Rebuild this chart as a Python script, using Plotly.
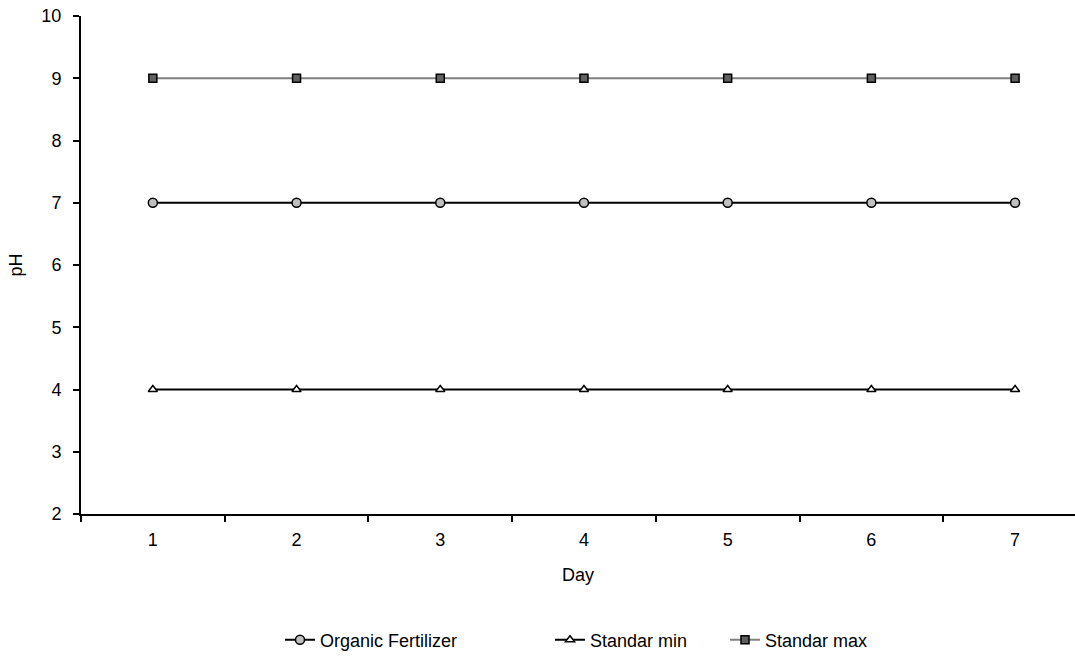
import plotly.graph_objects as go

days = ["1", "2", "3", "4", "5", "6", "7"]
organic = [7, 7, 7, 7, 7, 7, 7]
std_min = [4, 4, 4, 4, 4, 4, 4]
std_max = [9, 9, 9, 9, 9, 9, 9]

font = "Liberation Sans, Arial, sans-serif"
legfont = dict(family=font, size=18, color="black")

fig = go.Figure()
fig.add_trace(go.Scatter(
    x=days, y=organic, name="Organic Fertilizer", mode="lines+markers", legend="legend",
    line=dict(color="black", width=2),
    marker=dict(symbol="circle", size=9, color="#c0c0c0", line=dict(color="black", width=1.5)),
))
fig.add_trace(go.Scatter(
    x=days, y=std_min, name="Standar min", mode="lines+markers", legend="legend2",
    line=dict(color="black", width=2),
    marker=dict(symbol="triangle-up", size=8, color="white", line=dict(color="black", width=1.5)),
))
fig.add_trace(go.Scatter(
    x=days, y=std_max, name="Standar max", mode="lines+markers", legend="legend3",
    line=dict(color="#808080", width=2),
    marker=dict(symbol="square", size=8, color="#606060", line=dict(color="black", width=1.5)),
))

def leg(px):
    return dict(orientation="h", x=(px - 81) / 994, xanchor="left", y=-0.253, yanchor="middle",
                font=legfont, itemwidth=30, bgcolor="rgba(0,0,0,0)")

fig.update_layout(
    width=1075, height=666,
    margin=dict(l=81, r=0, t=16, b=152),
    plot_bgcolor="white", paper_bgcolor="white",
    font=dict(family=font, size=18, color="black"),
    showlegend=True,
    legend=leg(280), legend2=leg(550), legend3=leg(725),
    xaxis=dict(
        type="category", range=[-0.5, 6.417], tickson="boundaries",
        ticks="outside", ticklen=6, tickwidth=1.5, tickcolor="black",
        tickfont=dict(family=font, size=18, color="black"),
        showline=True, linecolor="black", linewidth=2, showgrid=False, zeroline=False,
        title=dict(text="Day", standoff=20, font=dict(family=font, size=18, color="black")),
        ticklabelstandoff=8,
    ),
    yaxis=dict(
        range=[2, 10], dtick=1, ticks="outside", ticklen=6, tickwidth=1.5, tickcolor="black",
        tickfont=dict(family=font, size=18, color="black"),
        showline=True, linecolor="black", linewidth=2, showgrid=False, zeroline=False,
        title=dict(text="pH", standoff=14, font=dict(family=font, size=18, color="black")),
        ticklabelstandoff=8,
    ),
)
fig.write_html("out.html")
